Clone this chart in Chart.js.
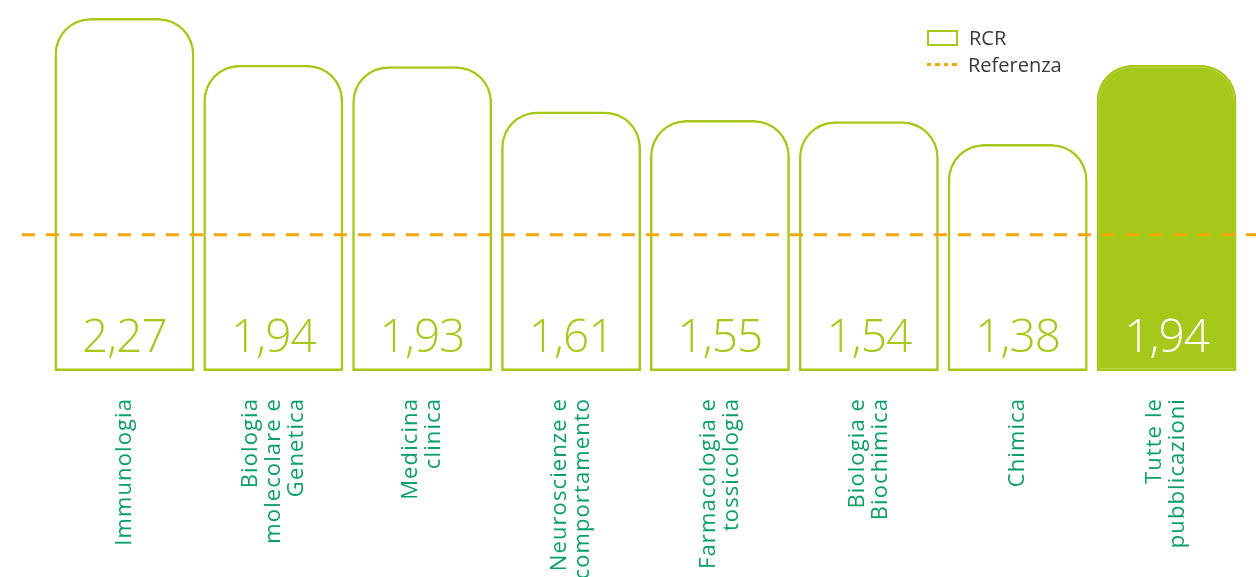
<!DOCTYPE html>
<html lang="it">
  <head>
    <meta charset="UTF-8" />
    <title>RCR</title>
    <style>
      body { margin: 0; background: #fff; }
      .wrap { position: relative; width: 1256px; height: 577px; overflow: hidden; }
      #legend { position: absolute; left: 927px; top: 24px; font-family: "Open Sans", sans-serif; font-size: 20px; color: #3a3a3a; }
      #legend div { height: 27px; display: flex; align-items: center; }
      .box { width: 27px; height: 12px; border: 2.5px solid #a6c81b; margin-right: 11px; }
      .dash { width: 30px; height: 3px; margin-right: 11px;
        background: repeating-linear-gradient(90deg, #f4a70a 0 4px, transparent 4px 8.5px); }
    </style>
  </head>
  <body>
    <div class="wrap">
      <canvas id="bar" width="1256" height="577"></canvas>
      <div id="legend">
        <div><span class="box"></span>RCR</div>
        <div><span class="dash"></span>Referenza</div>
      </div>
    </div>

    <script src="https://cdn.jsdelivr.net/npm/chart.js@4.4.1/dist/chart.umd.min.js"></script>
    <script>
      // dati
      const categories = [
        "Immunologia",
        ["Biologia", "molecolare e", "Genetica"],
        ["Medicina", "clinica"],
        ["Neuroscienze e", "comportamento"],
        ["Farmacologia e", "tossicologia"],
        ["Biologia e", "Biochimica"],
        "Chimica",
        ["Tutte le", "pubblicazioni"],
      ];
      const rcrValues = [2.27, 1.94, 1.93, 1.61, 1.55, 1.54, 1.38, 1.94];
      const referenceValue = 0.74;
      const axisMin = -0.223;
      const axisMax = 2.27;

      const green = "#a6c81b";
      const orange = "#f4a70a";
      const labelGreen = "#0a9e68";

      // testo dei valori dentro le barre
      const valueLabels = {
        id: "valueLabels",
        afterDatasetsDraw(chart) {
          const ctx = chart.ctx;
          const meta = chart.getDatasetMeta(0);
          ctx.save();
          ctx.font = "300 46px 'Open Sans', sans-serif";
          ctx.letterSpacing = "-1px";
          ctx.textAlign = "center";
          ctx.textBaseline = "alphabetic";
          meta.data.forEach((bar, i) => {
            ctx.fillStyle = i === rcrValues.length - 1 ? "#fff" : green;
            const txt = rcrValues[i].toFixed(2).replace(".", ",");
            ctx.fillText(txt, bar.x, chart.chartArea.bottom - 19);
          });
          ctx.restore();
        },
      };

      // etichette verticali centrate sulla categoria
      const axisLabels = {
        id: "axisLabels",
        afterDraw(chart) {
          const ctx = chart.ctx;
          const xs = chart.scales.x;
          const top = chart.chartArea.bottom + 27;
          ctx.save();
          ctx.font = "22px 'Open Sans', sans-serif";
          ctx.letterSpacing = "1.1px";
          ctx.fillStyle = labelGreen;
          ctx.textAlign = "right";
          ctx.textBaseline = "middle";
          categories.forEach((lab, i) => {
            const lines = Array.isArray(lab) ? lab : [lab];
            const x = xs.getPixelForTick(i);
            ctx.save();
            ctx.translate(x, top);
            ctx.rotate(-Math.PI / 2);
            lines.forEach((ln, j) => {
              ctx.fillText(ln, 0, (j - (lines.length - 1) / 2) * 23);
            });
            ctx.restore();
          });
          ctx.restore();
        },
      };

      // linea tratteggiata di riferimento
      const refLine = {
        id: "refLine",
        afterDatasetsDraw(chart) {
          const ctx = chart.ctx;
          const y = chart.scales.y.getPixelForValue(referenceValue);
          ctx.save();
          ctx.strokeStyle = orange;
          ctx.lineWidth = 3;
          ctx.setLineDash([13, 11]);
          ctx.beginPath();
          ctx.moveTo(22, y);
          ctx.lineTo(chart.width, y);
          ctx.stroke();
          ctx.restore();
        },
      };

      const barCtx = document.getElementById("bar");
      const barChart = new Chart(barCtx, {
        type: "bar",
        data: {
          labels: categories,
          datasets: [
            {
              label: "RCR",
              data: rcrValues,
              base: axisMin,
              backgroundColor: rcrValues.map((v, i) => (i === rcrValues.length - 1 ? green : "rgba(255,255,255,0)")),
              borderColor: green,
              borderWidth: 2.5,
              borderSkipped: false,
              borderRadius: { topLeft: 36, topRight: 36, bottomLeft: 0, bottomRight: 0 },
              barPercentage: 0.94,
              categoryPercentage: 1,
            },
          ],
        },
        options: {
          responsive: false,
          animation: false,
          layout: { padding: { left: 50, right: 15, top: 18, bottom: 0 } },
          plugins: { legend: { display: false }, tooltip: { enabled: false } },
          scales: {
            y: { display: false, min: axisMin, max: axisMax },
            x: {
              grid: { display: false },
              border: { display: false },
              ticks: { display: false, autoSkip: false },
              afterFit(scale) {
                scale.height = 206;
              },
            },
          },
        },
        plugins: [refLine, valueLabels, axisLabels],
      });
    </script>
  </body>
</html>
